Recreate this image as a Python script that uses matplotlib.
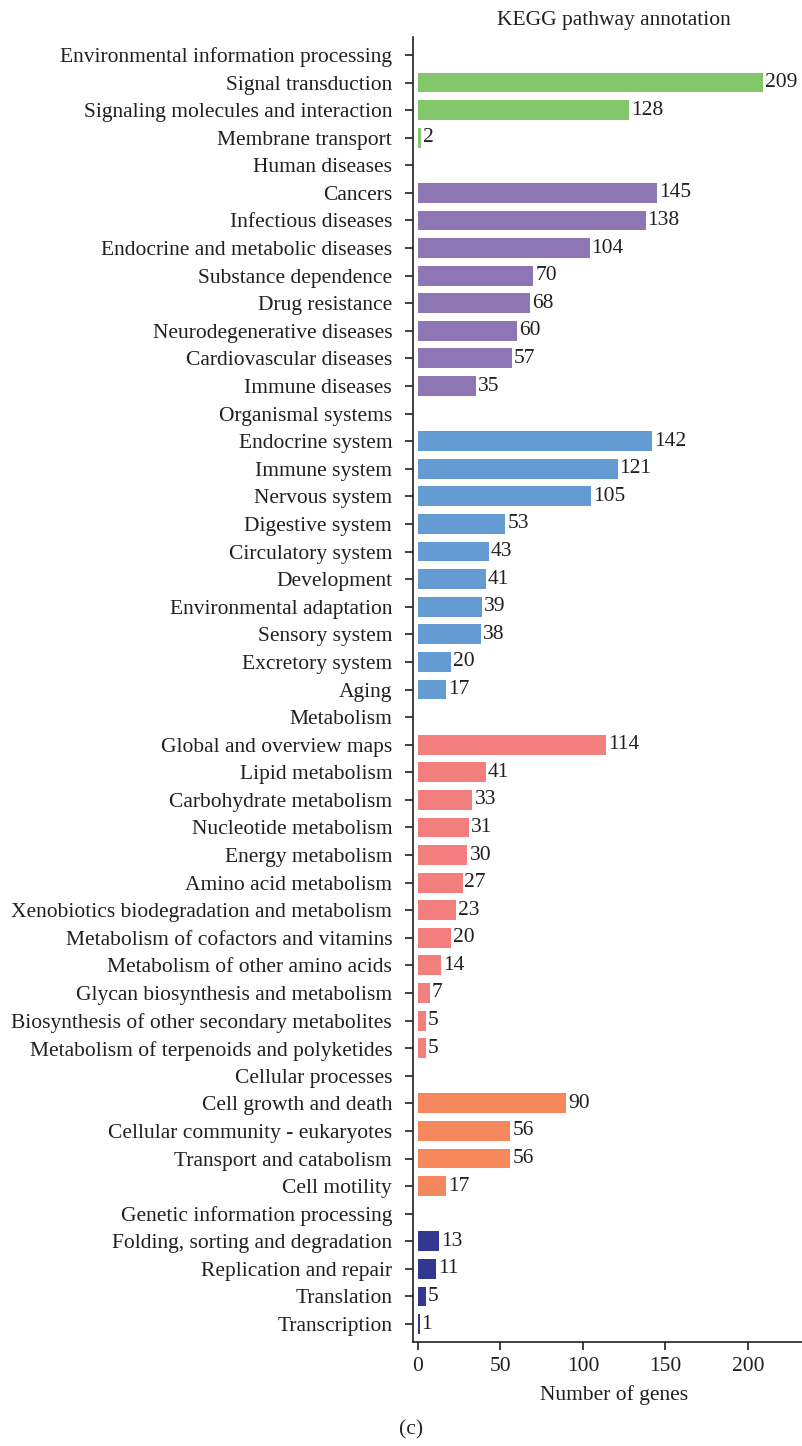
import numpy as np
from matplotlib import pyplot as plt

plt.rcParams['font.family'] = ['Liberation Serif', 'DejaVu Serif']

# KEGG level-1 groups and their level-2 pathways with gene counts
groups = ['Environmental information processing', 'Human diseases', 'Organismal systems',
          'Metabolism', 'Cellular processes', 'Genetic information processing']

env_names = ['Signal transduction', 'Signaling molecules and interaction', 'Membrane transport']
env_counts = [209, 128, 2]

dis_names = ['Cancers', 'Infectious diseases', 'Endocrine and metabolic diseases',
             'Substance dependence', 'Drug resistance', 'Neurodegenerative diseases',
             'Cardiovascular diseases', 'Immune diseases']
dis_counts = [145, 138, 104, 70, 68, 60, 57, 35]

org_names = ['Endocrine system', 'Immune system', 'Nervous system', 'Digestive system',
             'Circulatory system', 'Development', 'Environmental adaptation',
             'Sensory system', 'Excretory system', 'Aging']
org_counts = [142, 121, 105, 53, 43, 41, 39, 38, 20, 17]

met_names = ['Global and overview maps', 'Lipid metabolism', 'Carbohydrate metabolism',
             'Nucleotide metabolism', 'Energy metabolism', 'Amino acid metabolism',
             'Xenobiotics biodegradation and metabolism', 'Metabolism of cofactors and vitamins',
             'Metabolism of other amino acids', 'Glycan biosynthesis and metabolism',
             'Biosynthesis of other secondary metabolites', 'Metabolism of terpenoids and polyketides']
met_counts = [114, 41, 33, 31, 30, 27, 23, 20, 14, 7, 5, 5]

cel_names = ['Cell growth and death', 'Cellular community - eukaryotes',
             'Transport and catabolism', 'Cell motility']
cel_counts = [90, 56, 56, 17]

gen_names = ['Folding, sorting and degradation', 'Replication and repair',
             'Translation', 'Transcription']
gen_counts = [13, 11, 5, 1]

colors = ['#84c76a', '#8e75b4', '#649bd3', '#f27f7e', '#f4875b', '#33378f']

sections = [(env_names, env_counts), (dis_names, dis_counts), (org_names, org_counts),
            (met_names, met_counts), (cel_names, cel_counts), (gen_names, gen_counts)]

fs = 15.5
ink = '#231f20'

fig = plt.figure(figsize=(8.02, 14.46), dpi=100)
ax = fig.add_axes([413 / 802, 1 - 1342 / 1446, (815 - 413) / 802, (1342 - 37) / 1446])

labels = []
pos = 0
for group, (names, counts), col in zip(groups, sections, colors):
    labels.append(group)
    pos += 1
    ys = np.arange(pos, pos + len(names))
    ax.barh(ys, counts, height=0.72, color=col)
    for y, v in zip(ys, counts):
        ax.text(v + 1.2, y, str(v), va='center', ha='left', fontsize=fs, color=ink)
    labels.extend(names)
    pos += len(names)

ax.set_yticks(np.arange(len(labels)))
ax.set_yticklabels(labels, fontsize=fs, color=ink)
ax.set_ylim(len(labels) - 1 + 0.65, -0.65)
ax.set_xlim(-3, 240.6)
ax.set_xticks([0, 50, 100, 150, 200])
ax.tick_params(axis='both', labelsize=fs, colors=ink, length=6, width=1.2)
ax.tick_params(axis='y', pad=9)
ax.tick_params(axis='x', pad=5)
ax.spines['top'].set_visible(False)
ax.spines['right'].set_visible(False)
for s in ['left', 'bottom']:
    ax.spines[s].set_linewidth(1.2)
    ax.spines[s].set_color(ink)
ax.set_xlabel('Number of genes', fontsize=fs, color=ink, labelpad=6)
ax.set_title('KEGG pathway annotation', fontsize=fs, color=ink, pad=9)

fig.text(411 / 802, 1 - 1430 / 1446, '(c)', ha='center', va='center', fontsize=fs, color=ink)

fig.savefig('out.png', dpi=100)
